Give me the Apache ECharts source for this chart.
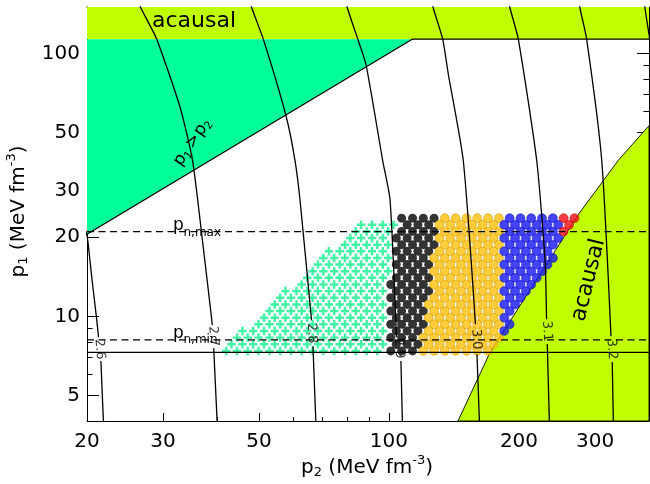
<!DOCTYPE html>
<html>
<head>
<meta charset="utf-8">
<script src="https://cdn.jsdelivr.net/npm/echarts@6/dist/echarts.min.js"></script>
<style>
  html, body { margin: 0; padding: 0; background: #fff; }
  #chart { width: 650px; height: 484px; }
</style>
</head>
<body>
<div id="chart"></div>
<script>
// ---------- axes ----------
const xRange = [20, 400];
const yRange = [4, 150];
const xMajorTicks = [20, 30, 50, 100, 200, 300];
const xMinorTicks = [40, 60, 70, 80, 90];
const yMajorTicks = [5, 10, 20, 30, 50, 100];
const yMinorTicks = [6, 7, 8, 9, 40, 60, 70, 80, 90];

// ---------- regions (p2, p1) ----------
const acausalTop = [[20, 113.2], [400, 113.2], [400, 150], [20, 150]];
const p1AboveP2 = [[20, 20.5], [113.2, 113.2], [20, 113.2]];
const acausalRight = [[144.5, 4], [171.4, 7.29], [194.1, 10.03], [274, 24.3], [339.6, 39.2], [398.4, 52.7], [400, 53.0], [400, 4]];
const allowedEdge = [[20, 20.5], [113.2, 113.2], [400, 113.2]];

// ---------- horizontal reference pressures ----------
const pnMax = 21.0;
const pnMin = 8.14;
const p1Floor = 7.29;

// ---------- model grid ----------
const p1Rows = [7.39, 7.83, 8.30, 8.80, 9.33, 9.88, 10.47, 11.10, 11.77, 12.47, 13.21,
                14.01, 14.84, 15.73, 16.67, 17.67, 18.73, 19.84, 21.03, 22.29, 23.62];
// p2 of filled-circle columns -4 ... 32
const dotColStart = -4;
const p2DotCols = [95.4, 98.2, 101.0, 104.0, 107.0, 110.2, 113.4, 116.7, 120.1, 123.6,
                   127.2, 130.9, 134.7, 138.7, 142.7, 146.9, 151.2, 155.6, 160.1, 164.8,
                   169.6, 174.6, 179.7, 184.9, 190.3, 195.9, 201.6, 207.5, 213.5, 219.8,
                   226.2, 232.8, 239.6, 246.6, 253.8, 261.2, 268.8];
// p2 of plus-marker columns -34 ... -1
const plusColStart = -34;
const p2PlusCols = [39.6, 40.8, 42.0, 43.2, 44.5, 45.8, 47.1, 48.5, 49.9, 51.4,
                    52.9, 54.4, 56.0, 57.6, 59.3, 61.1, 62.8, 64.7, 66.6, 68.5,
                    70.5, 72.6, 74.7, 76.9, 79.1, 81.4, 83.8, 86.2, 88.8, 91.4,
                    94.0, 96.8, 99.6, 102.5];
// column runs [first, last] for each row (every second column)
const plusRuns = [[-32,-4],[-31,-3],[-30,-4],[-29,-3],[-26,-4],[-25,-3],[-24,-4],[-23,-3],[-22,-4],[-21,-3],
                  [-18,-4],[-17,-3],[-16,-2],[-15,-3],[-14,-2],[-13,-3],[-10,-2],[-9,-3],[-8,-2],[-7,-1],null];
const blackRuns = [[-2,2],[-1,3],[-2,2],[-1,3],[-2,4],[-1,3],[-2,4],[-1,3],[-2,4],[-1,5],
                   [-2,4],[-1,5],[0,4],[-1,5],[0,4],[-1,5],[0,6],[-1,5],[0,6],[1,5],[0,6]];
const orangeRuns = [[4,16],[5,17],[4,18],[5,17],[6,18],[5,17],[6,18],[5,17],[6,18],[7,17],
                    [6,18],[7,17],[6,18],[7,17],[6,18],[7,17],[8,18],[7,17],[8,18],[7,17],[8,18]];
const blueRuns = [null,null,null,[19,19],[20,20],[19,19],[20,20],[19,21],[20,22],[19,23],
                  [20,24],[19,25],[20,26],[19,27],[20,28],[19,27],[20,28],[19,29],[20,28],[19,29],[20,28]];
const redRuns = [null,null,null,null,null,null,null,null,null,null,
                 null,null,null,null,null,null,null,null,[30,30],[31,31],[30,32]];

// ---------- contour curves (null marks the gap under the label) ----------
const c26 = [[19.8,21.5],[20.03,20.1],[20.54,13.8],[21.06,9.74],[21.27,8.33], null, [21.54,6.76],[21.82,4.05],[21.9,3.8]];
const c27 = [[26.2,160],[26.63,149],[29.0,113.2],[32.84,62.4],[35.1,39.2],[37.0,19.5],[38.88,9.74],[39.0,9.25], null, [39.3,7.57],[40.0,4.05],[40.1,3.8]];
const c28 = [[47.7,160],[48.12,149],[51.19,113.2],[57.75,58.0],[60.6,39.2],[62.25,27.7],[66.2,9.66], null, [66.7,7.7],[67.7,4.05],[67.8,3.8]];
const c29 = [[79.6,160],[80.1,149],[84.7,113.2],[88.5,90.5],[96.7,39.2],[100.6,27.7],[104.1,8.33], null, [106.6,6.76],[107.4,4.05],[107.5,3.8]];
const c30 = [[125.8,160],[126.6,149],[133.2,113.2],[137.2,83.6],[148.6,39.2],[158.6,9.33], null, [159.9,7.18],[161.9,4.05],[162.0,3.8]];
const c31 = [[189.5,160],[190.6,149],[199.3,113.2],[219.8,39.2],[229.8,16.4],[231.7,9.74], null, [232.6,7.84],[235.1,4.05],[235.3,3.8]];
const c32 = [[275.5,160],[276.8,149],[286.9,113.2],[310.9,39.2],[326.6,8.40], null, [328.8,6.70],[330.7,4.05],[330.9,3.8]];
const c33 = [[390.5,160],[391.4,149],[400,118],[404,105]];
const contourLevels = ['2.6', '2.7', '2.8', '2.9', '3.0', '3.1', '3.2'];
const contourLabelAt = [[21.4,7.5],[39.2,8.4],[66.3,8.62],[105.5,7.57],[159.3,8.18],[232.3,8.78],[327.8,7.5]];

// ---------- build ----------
const FONT = 'DejaVu Sans';
const INK = '#000';

function expandRuns(runs, cols, colStart) {
  const pts = [];
  runs.forEach((run, r) => {
    if (!run) return;
    for (let c = run[0]; c <= run[1]; c += 2) pts.push([cols[c - colStart], p1Rows[r]]);
  });
  return pts;
}

function splitAtGaps(curve) {
  const parts = [[]];
  curve.forEach(p => { if (p === null) parts.push([]); else parts[parts.length - 1].push(p); });
  return parts;
}

function polygon(points, fill, stroke) {
  return {
    type: 'custom', silent: true, z: 1,
    data: [[100, 10]],
    renderItem: (params, api) => ({
      type: 'polygon',
      shape: { points: points.map(p => api.coord(p)) },
      style: { fill: fill, stroke: stroke || null, lineWidth: stroke ? 0.9 : 0 }
    })
  };
}

function line(data, style) {
  return {
    type: 'line', data: data, showSymbol: false, symbol: 'none', silent: true,
    clip: true, z: 5, lineStyle: Object.assign({ color: INK, width: 1.3 }, style || {})
  };
}

function dots(data, color, border, size) {
  return {
    type: 'scatter', data: data, symbol: 'circle', symbolSize: size || 9, silent: true, z: 3,
    itemStyle: { color: color, borderColor: border, borderWidth: border ? 0.6 : 0 }
  };
}

function xAxisDef(pos, ticks, len, labels, lineOn) {
  return {
    type: 'log', logBase: 10, min: xRange[0], max: xRange[1], position: pos,
    axisLine: { show: lineOn, onZero: false, lineStyle: { color: INK, width: 1 } },
    axisTick: { show: true, inside: true, length: len, customValues: ticks, lineStyle: { color: INK, width: 1 } },
    axisLabel: labels ? { show: true, customValues: ticks, color: INK, fontSize: 20, fontFamily: FONT, margin: 11 } : { show: false },
    splitLine: { show: false }, minorTick: { show: false }
  };
}
function yAxisDef(pos, ticks, len, labels, lineOn) {
  return {
    type: 'log', logBase: 10, min: yRange[0], max: yRange[1], position: pos,
    axisLine: { show: lineOn, onZero: false, lineStyle: { color: INK, width: 1 } },
    axisTick: { show: true, inside: true, length: len, customValues: ticks, lineStyle: { color: INK, width: 1 } },
    axisLabel: labels ? { show: true, customValues: ticks, color: INK, fontSize: 20, fontFamily: FONT, margin: 7 } : { show: false },
    splitLine: { show: false }, minorTick: { show: false }
  };
}

const plusSymbol = 'path://M3.2,0h2.6v3.2h3.2v2.6h-3.2v3.2h-2.6v-3.2h-3.2v-2.6h3.2z';

const series = [
  polygon(acausalTop, '#C0FF00'),
  polygon(p1AboveP2, '#00FF99'),
  polygon(acausalRight, '#C0FF00', INK),
  {
    type: 'scatter', data: expandRuns(plusRuns, p2PlusCols, plusColStart), symbol: plusSymbol,
    symbolSize: 8.5, silent: true, z: 3, itemStyle: { color: '#14F08C' }
  },
  dots(expandRuns(blackRuns, p2DotCols, dotColStart), '#000000'),
  dots(expandRuns(orangeRuns, p2DotCols, dotColStart), '#FFC10A', '#C99500'),
  dots(expandRuns(blueRuns, p2DotCols, dotColStart), '#1414F5', '#0A0AB0'),
  dots(expandRuns(redRuns, p2DotCols, dotColStart), '#F50A14', '#B00000'),
  line(allowedEdge, { width: 1.2 }),
  line([[xRange[0], pnMax], [xRange[1], pnMax]], { type: [7, 4.5], width: 1.2 }),
  line([[xRange[0], pnMin], [xRange[1], pnMin]], { type: [7, 4.5], width: 1.2 }),
  line([[xRange[0], p1Floor], [xRange[1], p1Floor]], { width: 1.2 })
];
[c26, c27, c28, c29, c30, c31, c32, c33].forEach(curve => {
  splitAtGaps(curve).forEach(seg => {
    const s = line(seg);
    s.smooth = 0.2;
    series.push(s);
  });
});
series.push({
  type: 'scatter', silent: true, z: 6, symbolSize: 0,
  data: contourLabelAt.map((p, i) => ({ value: p, label: { formatter: contourLevels[i] } })),
  label: { show: true, position: 'inside', rotate: -86, color: INK, fontSize: 13, fontFamily: FONT }
});

function txt(text, x, y, size, align) {
  return {
    type: 'text', x: x, y: y, z: 100, silent: true,
    style: { text: text, fill: INK, font: size + 'px "' + FONT + '"',
             align: align || 'left', textAlign: align || 'left',
             verticalAlign: 'middle', textVerticalAlign: 'middle' }
  };
}

const graphic = [
  txt('acausal', 152, 21, 22),
  Object.assign(txt('acausal', 588.5, 280, 22, 'center'), { rotation: 76 * Math.PI / 180 }),
  txt('p', 173, 226, 17), txt('n,max', 183.5, 233, 12),
  txt('p', 173, 333.5, 17), txt('n,min', 183.5, 340, 12),
  {
    type: 'group', x: 192.5, y: 142, rotation: 55.5 * Math.PI / 180, z: 100,
    children: [txt('p', -27, 0, 17), txt('1', -16.5, 4.5, 11), txt('>', -6, 0, 17),
               txt('p', 9, 0, 17), txt('2', 19.5, 4.5, 11)]
  },
  {
    type: 'group', x: 301, y: 468, z: 100,
    children: [txt('p', 0, 0, 20), txt('2', 12.7, 5, 13), txt(' (MeV fm', 21, 0, 20),
               txt('-3', 111.3, -7, 13), txt(')', 124.3, 0, 20)]
  },
  {
    type: 'group', x: 19, y: 211.5, rotation: Math.PI / 2, z: 100,
    children: [txt('p', -66, 0, 20), txt('1', -53.3, 5, 13), txt(' (MeV fm', -45, 0, 20),
               txt('-3', 45.3, -7, 13), txt(')', 58.3, 0, 20)]
  }
];

const chart = echarts.init(document.getElementById('chart'), null, { renderer: 'canvas' });
chart.setOption({
  animation: false,
  backgroundColor: '#fff',
  grid: { left: 87, right: 1, top: 7, bottom: 63, containLabel: false },
  xAxis: [
    xAxisDef('bottom', xMajorTicks, 8, true, true),
    xAxisDef('bottom', xMinorTicks, 4, false, false),
    xAxisDef('top', xMajorTicks, 8, false, true),
    xAxisDef('top', xMinorTicks, 4, false, false)
  ],
  yAxis: [
    yAxisDef('left', yMajorTicks, 12, true, true),
    yAxisDef('left', yMinorTicks, 5.5, false, false),
    yAxisDef('right', yMajorTicks, 12, false, true),
    yAxisDef('right', yMinorTicks, 5.5, false, false)
  ],
  series: series,
  graphic: graphic
});
</script>
</body>
</html>
